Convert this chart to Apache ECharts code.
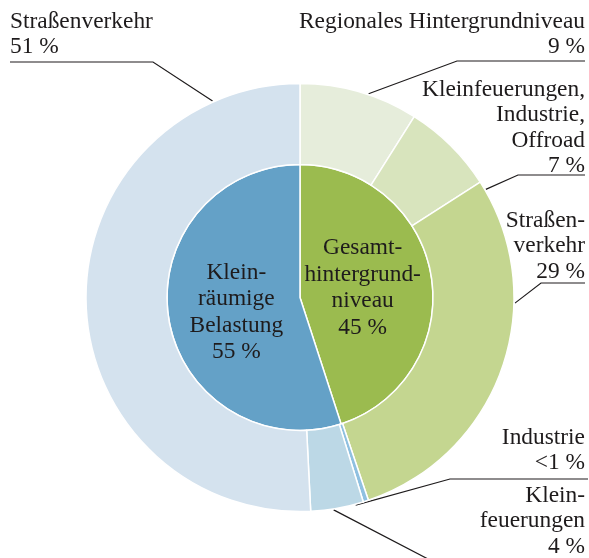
<!DOCTYPE html>
<html>
<head>
<meta charset="utf-8">
<script src="https://cdn.jsdelivr.net/npm/echarts@6/dist/echarts.min.js"></script>
<style>
  html, body { margin: 0; padding: 0; background: #ffffff; }
  #chart { width: 589px; height: 558px; }
</style>
</head>
<body>
<div id="chart"></div>
<script>
// Inner ring: split into background level and local load
const innerNames = ['Gesamt-\nhintergrund-\nniveau', 'Klein-\nräumige\nBelastung'];
const innerValues = [45, 55];

// Outer ring: source contributions, clockwise from the top
const outerNames = [
  'Regionales Hintergrundniveau',
  'Kleinfeuerungen,\nIndustrie,\nOffroad',
  'Straßen-\nverkehr',
  'Industrie',
  'Klein-\nfeuerungen',
  'Straßenverkehr'
];
const outerValues = [9, 7, 29, 0.4, 4, 51];
const outerValueLabels = ['9 %', '7 %', '29 %', '<1 %', '4 %', '51 %'];

const innerColors = ['#9bbb4f', '#64a1c7'];
const outerColors = ['#e6eddb', '#d8e4bd', '#c4d690', '#8fc0e0', '#bcd8e6', '#d4e2ee'];

const CX = 300, CY = 297.5, R0 = 133, R1 = 214;
const FONT = '"Liberation Serif", "Times New Roman", serif';
const INK = '#1e1b1c';

// Small nudges for the two labels inside the inner pie
const innerLabelShift = [[-6, 1], [5, 4]];

// Placement of the outer labels: text anchor, where the leader touches the ring
// (angle in degrees clockwise from the top), its elbow and its end.
const outerLabelPlacement = [
  { x: 585, y: 9,   align: 'right', angle: 18.6,  elbow: [457, 61],  end: [585, 61] },
  { x: 585, y: 77,  align: 'right', angle: 59.8,  elbow: [518, 175], end: [585, 175] },
  { x: 585, y: 208, align: 'right', angle: 91.5,  elbow: [541, 283], end: [585, 283] },
  { x: 585, y: 425, align: 'right', angle: 165,   elbow: [450, 479], end: [588, 479] },
  { x: 585, y: 483, align: 'right', angle: 171,   elbow: [428, 559], end: [589, 559] },
  { x: 10,  y: 9,   align: 'left',  angle: -24,   elbow: [153, 62],  end: [10, 62] }
];

function ringPoint(angleDeg, r) {
  const a = angleDeg * Math.PI / 180;
  return [CX + Math.sin(a) * r, CY - Math.cos(a) * r];
}

const chart = echarts.init(document.getElementById('chart'), null, { renderer: 'canvas' });

chart.setOption({
  animation: false,
  backgroundColor: '#ffffff',
  series: [
    {
      type: 'pie',
      center: [CX, CY],
      radius: [0, R0],
      startAngle: 90,
      clockwise: true,
      avoidLabelOverlap: false,
      itemStyle: { borderColor: '#ffffff', borderWidth: 1.5 },
      label: {
        show: true,
        position: 'inside',
        formatter: p => p.name + '\n' + p.value + ' %',
        fontFamily: FONT,
        fontSize: 23.4,
        lineHeight: 26.5,
        color: INK,
        align: 'center'
      },
      labelLine: { show: false },
      labelLayout: function (params) {
        const s = innerLabelShift[params.dataIndex];
        return { dx: s[0], dy: s[1] };
      },
      emphasis: { disabled: true },
      data: innerValues.map((v, i) => ({
        name: innerNames[i], value: v, itemStyle: { color: innerColors[i] }
      }))
    },
    {
      type: 'pie',
      center: [CX, CY],
      radius: [R0, R1],
      startAngle: 90,
      clockwise: true,
      avoidLabelOverlap: false,
      itemStyle: { borderColor: '#ffffff', borderWidth: 1.5 },
      label: {
        show: true,
        position: 'outside',
        formatter: p => p.name + '\n' + outerValueLabels[p.dataIndex],
        fontFamily: FONT,
        fontSize: 23.4,
        lineHeight: 25.5,
        color: INK
      },
      labelLine: {
        show: true,
        smooth: false,
        lineStyle: { color: INK, width: 1.2 }
      },
      emphasis: { disabled: true },
      labelLayout: function (params) {
        const pl = outerLabelPlacement[params.dataIndex];
        return {
          x: pl.x,
          y: pl.y,
          align: pl.align,
          verticalAlign: 'top',
          labelLinePoints: [ringPoint(pl.angle, R1 + 1), pl.elbow, pl.end]
        };
      },
      data: outerValues.map((v, i) => ({
        name: outerNames[i], value: v, itemStyle: { color: outerColors[i] }
      }))
    }
  ]
});
</script>
</body>
</html>
